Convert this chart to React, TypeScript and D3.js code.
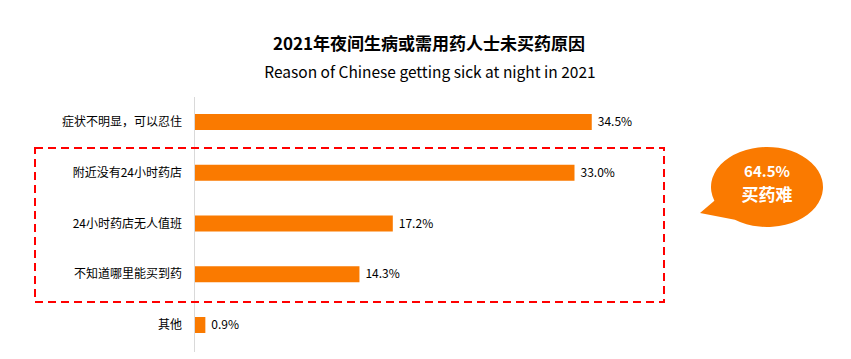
import React from 'react';
import * as d3 from 'd3';

const categories = ['症状不明显，可以忍住', '附近没有24小时药店', '24小时药店无人值班', '不知道哪里能买到药', '其他'];
const values = [34.5, 33.0, 17.2, 14.3, 0.9];
const title = '2021年夜间生病或需用药人士未买药原因';
const subtitle = 'Reason of Chinese getting sick at night in 2021';
const bubbleValue = '64.5%';
const bubbleLabel = '买药难';

const width = 851;
const height = 359;
const font = '"Noto Sans CJK SC", "Noto Sans", sans-serif';
const orange = '#fa7a00';

const App: React.FC = () => {
  const x = d3.scaleLinear().domain([0, 40]).range([195, 655]);
  const y = d3.scalePoint<string>().domain(categories).range([122, 325]);
  const barH = 16;

  // speech bubble outline: ellipse + tail
  const cx = 767, cy = 187, rx = 56, ry = 40;
  const a1 = (160 * Math.PI) / 180;
  const a2 = (125 * Math.PI) / 180;
  const p1: [number, number] = [cx + rx * Math.cos(a1), cy + ry * Math.sin(a1)];
  const p2: [number, number] = [cx + rx * Math.cos(a2), cy + ry * Math.sin(a2)];
  const bubblePath =
    `M${p1[0]},${p1[1]} A${rx},${ry} 0 1 1 ${p2[0]},${p2[1]} L700,213 Z`;

  return (
    <div style={{ position: 'absolute', left: 0, top: 0 }}>
      <svg width={width} height={height} style={{ display: 'block', fontFamily: font }}>
        <rect width={width} height={height} fill="#fff" />
        <text x={429} y={50} textAnchor="middle" fontSize={17} fontWeight="bold" fill="#000">
          {title}
        </text>
        <text x={430} y={78} textAnchor="middle" fontSize={15.5} fill="#000">
          {subtitle}
        </text>

        <line x1={194.5} x2={194.5} y1={97} y2={352} stroke="#d9d9d9" strokeWidth={1} />

        {categories.map((c, i) => (
          <g key={c}>
            <rect
              x={x(0)}
              y={(y(c) as number) - barH / 2}
              width={x(values[i]) - x(0)}
              height={barH}
              fill={orange}
            />
            <text
              x={182}
              y={y(c) as number}
              dy="0.35em"
              textAnchor="end"
              fontSize={12}
              fill="#000"
            >
              {c}
            </text>
            <text
              x={x(values[i]) + 6}
              y={y(c) as number}
              dy="0.35em"
              fontSize={12}
              fill="#000"
            >
              {values[i].toFixed(1)}%
            </text>
          </g>
        ))}

        <rect
          x={35}
          y={148}
          width={629}
          height={154}
          fill="none"
          stroke="#ff0000"
          strokeWidth={2}
          strokeDasharray="8,5"
        />

        <path d={bubblePath} fill={orange} />
        <text x={cx} y={177} textAnchor="middle" fontSize={15} fontWeight="bold" fill="#fff">
          {bubbleValue}
        </text>
        <text x={cx} y={201} textAnchor="middle" fontSize={17} fontWeight="bold" fill="#fff">
          {bubbleLabel}
        </text>
      </svg>
    </div>
  );
};

export default App;
